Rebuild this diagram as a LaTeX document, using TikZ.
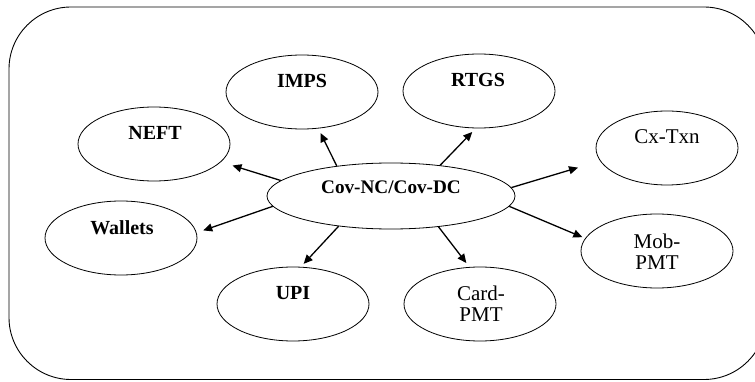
\documentclass[tikz,border=0pt]{standalone}
\usepackage{fontspec}
\setmainfont{Liberation Serif}
\usetikzlibrary{shapes.geometric,arrows.meta}
\begin{document}
\begin{tikzpicture}[x=1pt,y=-1pt,
  bubble/.style={draw,ellipse,line width=0.8pt,inner sep=0pt,
    minimum width=152pt,minimum height=74pt},
  tagb/.style={font=\fontsize{20}{21}\selectfont\bfseries,inner sep=0pt},
  tagr/.style={font=\fontsize{21}{21}\selectfont,inner sep=0pt,align=center},
  link/.style={-{Triangle[length=9pt,width=8pt]},line width=1.3pt}]
\useasboundingbox (0,0) rectangle (755,382);

% outer frame
\draw[line width=0.9pt,rounded corners=62pt] (9,7) rectangle (766,379.5);

% bubbles
\node[bubble,minimum width=248pt,minimum height=66pt] (c) at (391,196) {};
\node[bubble] (imps) at (302,92) {};
\node[bubble] (neft) at (154,144) {};
\node[bubble] (rtgs) at (479,91) {};
\node[bubble,minimum width=142pt] (cx) at (667,148) {};
\node[bubble] (wal) at (121,238) {};
\node[bubble] (upi) at (293,304) {};
\node[bubble] (card) at (480,304) {};
\node[bubble] (mob) at (657,251) {};

% labels
\node[tagb,font=\fontsize{19.2}{21}\selectfont\bfseries] (c-t) at (391,187) {Cov-NC/Cov-DC};
\node[tagb] (imps-t) at (302,81) {IMPS};
\node[tagb] (neft-t) at (155,133) {NEFT};
\node[tagb] (rtgs-t) at (478,80) {RTGS};
\node[tagr] (cx-t) at (667,137) {Cx-Txn};
\node[tagb] (wal-t) at (122,228) {Wallets};
\node[tagb] (upi-t) at (293,293) {UPI};
\node[tagr] (card-t) at (481,304) {Card-\\PMT};
\node[tagr] (mob-t) at (657,252) {Mob-\\PMT};

% arrows from the centre
\draw[link,shorten >=12pt] (c.172.8) -- (neft.-15);
\draw[link,shorten >=5pt] (c.151.8) -- (imps.-66);
\draw[link,shorten >=5pt] (c.32.4) -- (rtgs.-95);
\draw[link,shorten >=23pt] (c.4.2) -- (cx.191);
\draw[link,shorten >=3pt] (c.-5.6) -- (mob.170);
\draw[link,shorten >=5pt] (c.-33.2) -- (card.106);
\draw[link,shorten >=4pt] (c.210) -- (upi.78);
\draw[link,shorten >=7pt] (c.185.8) -- (wal.4);
\end{tikzpicture}
\end{document}
